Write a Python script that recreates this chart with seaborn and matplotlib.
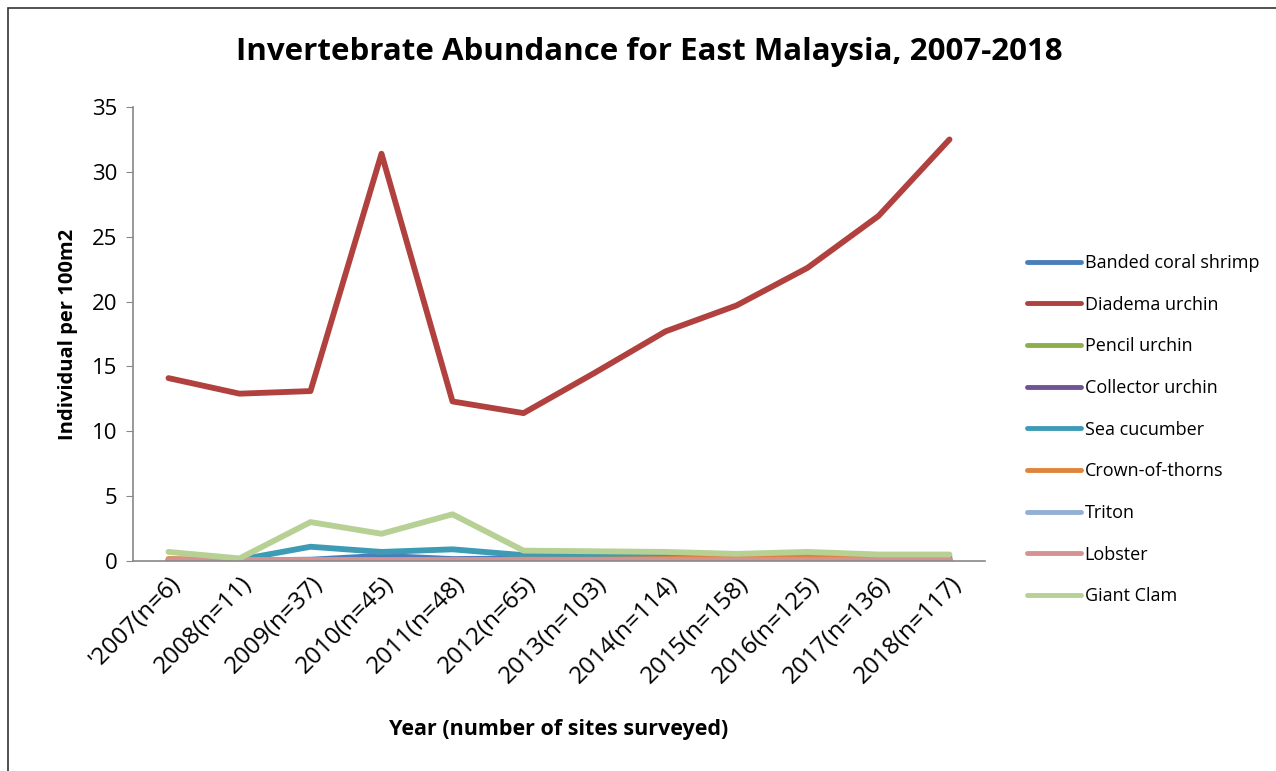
import pandas as pd
import numpy as np
import matplotlib
matplotlib.use('Agg')
import matplotlib.pyplot as plt
import seaborn as sns
from matplotlib.patches import Rectangle

# Data
years = ["'2007(n=6)", "2008(n=11)", "2009(n=37)", "2010(n=45)", "2011(n=48)",
         "2012(n=65)", "2013(n=103)", "2014(n=114)", "2015(n=158)",
         "2016(n=125)", "2017(n=136)", "2018(n=117)"]

banded_coral_shrimp = [0.05, 0.05, 0.1, 0.4, 0.15, 0.2, 0.2, 0.2, 0.15, 0.2, 0.15, 0.15]
diadema_urchin = [14.1, 12.9, 13.1, 31.4, 12.3, 11.4, 14.5, 17.7, 19.7, 22.6, 26.6, 32.5]
pencil_urchin = [0.0, 0.0, 0.0, 0.0, 0.0, 0.0, 0.0, 0.0, 0.0, 0.0, 0.0, 0.0]
collector_urchin = [0.0, 0.0, 0.0, 0.1, 0.0, 0.0, 0.0, 0.0, 0.0, 0.0, 0.0, 0.0]
sea_cucumber = [0.1, 0.1, 1.1, 0.7, 0.9, 0.45, 0.4, 0.35, 0.3, 0.4, 0.3, 0.3]
crown_of_thorns = [0.15, 0.05, 0.05, 0.05, 0.05, 0.1, 0.1, 0.15, 0.2, 0.3, 0.15, 0.1]
triton = [0.0, 0.0, 0.0, 0.0, 0.0, 0.0, 0.0, 0.0, 0.0, 0.0, 0.0, 0.0]
lobster = [0.05, 0.05, 0.05, 0.05, 0.05, 0.05, 0.05, 0.05, 0.05, 0.05, 0.05, 0.05]
giant_clam = [0.7, 0.2, 3.0, 2.1, 3.6, 0.8, 0.75, 0.7, 0.55, 0.7, 0.5, 0.5]

species = ['Banded coral shrimp', 'Diadema urchin', 'Pencil urchin', 'Collector urchin',
           'Sea cucumber', 'Crown-of-thorns', 'Triton', 'Lobster', 'Giant Clam']
values = [banded_coral_shrimp, diadema_urchin, pencil_urchin, collector_urchin,
          sea_cucumber, crown_of_thorns, triton, lobster, giant_clam]
colors = ['#4A7EBB', '#B0413E', '#8CAF4C', '#705394', '#3E9BB5',
          '#E0843C', '#93AFD6', '#D69291', '#B7D094']

# long format table for seaborn
rows = []
for name, vals in zip(species, values):
    for i, v in enumerate(vals):
        rows.append({'x': i, 'value': v, 'species': name})
df = pd.DataFrame(rows)

sns.set_style('white')
plt.rcParams['font.family'] = ['Open Sans', 'DejaVu Sans']
plt.rcParams['text.color'] = 'black'
plt.rcParams['axes.labelcolor'] = 'black'
plt.rcParams['xtick.color'] = 'black'
plt.rcParams['ytick.color'] = 'black'

fig = plt.figure(figsize=(12.76, 7.71), dpi=100)
ax = fig.add_axes([133 / 1276, 1 - 561 / 771, (985 - 133) / 1276, (561 - 107) / 771])

sns.lineplot(data=df, x='x', y='value', hue='species', hue_order=species,
             palette=dict(zip(species, colors)), linewidth=4.2, ax=ax,
             estimator=None, sort=False)

ax.set_xlim(-0.5, len(years) - 0.5)
ax.set_ylim(0, 35)
ax.set_yticks(range(0, 36, 5))
ax.set_yticklabels([str(t) for t in range(0, 36, 5)], fontsize=16)
ax.set_xticks(range(len(years)))
ax.set_xticklabels(years, rotation=45, ha='right', rotation_mode='anchor', fontsize=17.5)
ax.tick_params(axis='x', length=0, pad=8)
ax.tick_params(axis='y', direction='out', length=5, color='#888888', left=True, pad=6)

for s in ['top', 'right']:
    ax.spines[s].set_visible(False)
for s in ['left', 'bottom']:
    ax.spines[s].set_color('#888888')
    ax.spines[s].set_linewidth(1.2)

ax.set_xlabel('Year (number of sites surveyed)', fontsize=15.5, fontweight='bold', labelpad=22)
ax.set_ylabel('Individual per 100m2', fontsize=14.5, fontweight='bold', labelpad=10)

fig.text(649.5 / 1276, 1 - 52 / 771, 'Invertebrate Abundance for East Malaysia, 2007-2018',
         ha='center', va='center', fontsize=22.5, fontweight='bold')

leg = ax.legend(loc='upper left', bbox_to_anchor=(1.03, 0.712), frameon=False,
                fontsize=13, handlelength=3.0, labelspacing=1.31, handletextpad=0.2)
for line in leg.get_lines():
    line.set_linewidth(3.5)

# outer border of the chart area
fig.patches.append(Rectangle((8 / 1276, -0.01), 1.1, 1 - 8 / 771 + 0.01,
                             transform=fig.transFigure, fill=False,
                             edgecolor='#333333', linewidth=1.2))

fig.savefig('out.png', dpi=100)
